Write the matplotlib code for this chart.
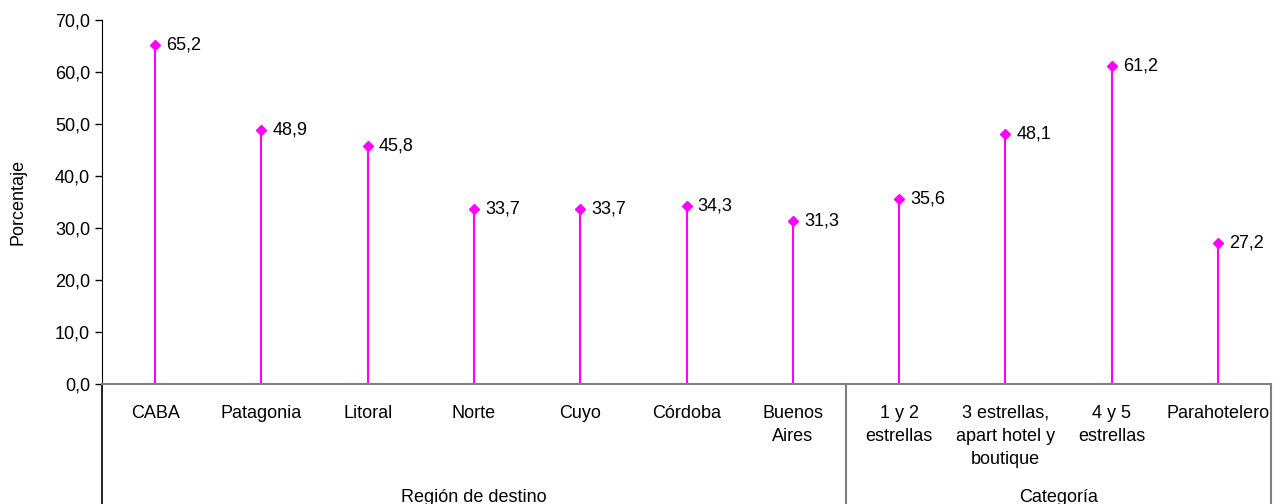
import matplotlib.pyplot as plt
from matplotlib.ticker import FuncFormatter

plt.rcParams['font.family'] = ['Liberation Sans', 'DejaVu Sans']

# data
labels = ['CABA', 'Patagonia', 'Litoral', 'Norte', 'Cuyo', 'Córdoba', 'Buenos\nAires',
          '1 y 2\nestrellas', '3 estrellas,\napart hotel y\nboutique', '4 y 5\nestrellas',
          'Parahotelero']
values = [65.2, 48.9, 45.8, 33.7, 33.7, 34.3, 31.3, 35.6, 48.1, 61.2, 27.2]
groups = ['Región de destino', 'Categoría']
group_sizes = [7, 4]

col = '#FF00FF'
fs = 13

fig = plt.figure(figsize=(12.77, 5.04), dpi=100)
ax = fig.add_axes([102 / 1277, 120 / 504, 1169 / 1277, 364 / 504])

x = list(range(len(values)))
ax.vlines(x, 0, values, color=col, linewidth=1.5)
ax.plot(x, values, linestyle='none', marker='D', markersize=5.5, color=col)
for xi, v in zip(x, values):
    ax.annotate(f'{v:.1f}'.replace('.', ','), (xi, v), xytext=(8, 0),
                textcoords='offset points', va='center', ha='left', fontsize=fs)

ax.set_xlim(-0.5, len(values) - 0.5)
ax.set_ylim(0, 70)
ax.set_yticks(range(0, 71, 10))
ax.yaxis.set_major_formatter(FuncFormatter(lambda v, p: f'{v:.1f}'.replace('.', ',')))
ax.tick_params(axis='y', labelsize=fs, length=5, direction='out', width=1)
ax.set_xticks(x)
ax.set_xticklabels(labels, fontsize=fs, linespacing=1.45, va='top')
ax.tick_params(axis='x', length=0, pad=15)
ax.set_ylabel('Porcentaje', fontsize=fs)
ax.yaxis.set_label_coords(-75 / 1169, 0.5)

for s in ['top', 'right']:
    ax.spines[s].set_visible(False)
ax.spines['bottom'].set_color('#808080')
ax.spines['bottom'].set_linewidth(1.5)
ax.spines['left'].set_color('black')

# group separators and labels below the axis
tr = ax.get_xaxis_transform()
ybot = -120 / 364
start = -0.5
bounds = [start]
for g, n in zip(groups, group_sizes):
    end = start + n
    ax.text((start + end) / 2, ybot - 0.005, g, transform=tr, ha='center', va='bottom',
            fontsize=fs, clip_on=False)
    bounds.append(end)
    start = end
for i, b in enumerate(bounds):
    c = 'black' if i == 0 else '#808080'
    ax.plot([b, b], [0, ybot], transform=tr, color=c, linewidth=1.2 if i == 0 else 1.5,
            clip_on=False)

fig.savefig('out.png', dpi=100)
